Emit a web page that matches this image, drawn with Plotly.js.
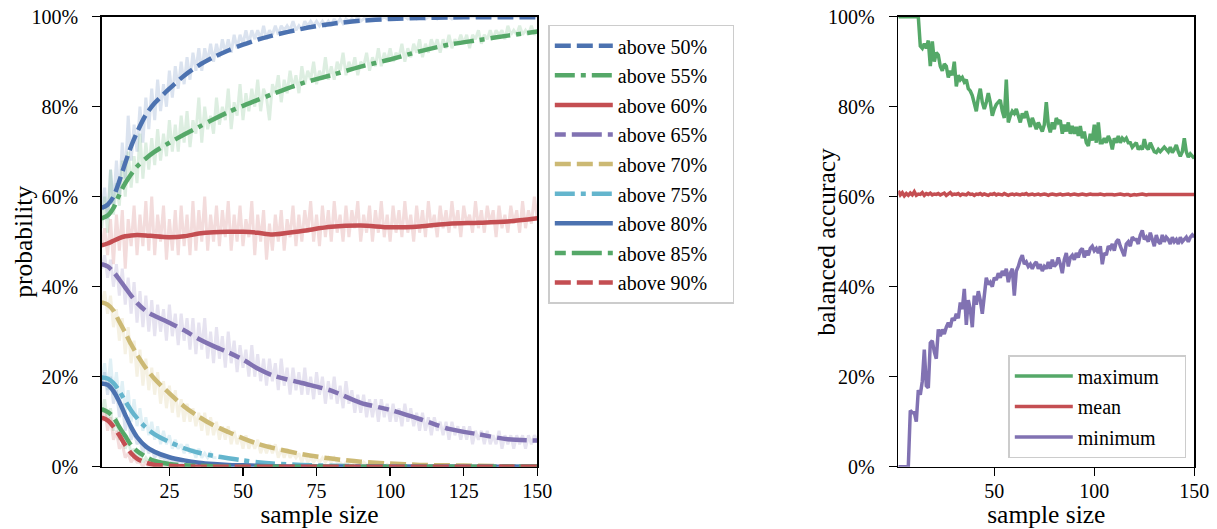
<!DOCTYPE html>
<html>
<head>
<meta charset="utf-8">
<script src="https://cdn.plot.ly/plotly-3.0.1.min.js"></script>
<style>html,body{margin:0;padding:0;background:#fff;}#chart{width:1217px;height:529px;}</style>
</head>
<body>
<div id="chart"></div>
<script>
// ---------------- data ----------------
const sampleSize = [2,3,4,5,6,7,8,9,10,11,12,13,14,15,16,17,18,19,20,21,22,23,24,25,26,27,28,29,30,31,32,33,34,35,36,37,38,39,40,41,42,43,44,45,46,47,48,49,50,51,52,53,54,55,56,57,58,59,60,61,62,63,64,65,66,67,68,69,70,71,72,73,74,75,76,77,78,79,80,81,82,83,84,85,86,87,88,89,90,91,92,93,94,95,96,97,98,99,100,101,102,103,104,105,106,107,108,109,110,111,112,113,114,115,116,117,118,119,120,121,122,123,124,125,126,127,128,129,130,131,132,133,134,135,136,137,138,139,140,141,142,143,144,145,146,147,148,149,150];
const shortSize = [2,3,4,5,6,7,8,9,10,11,12,13,14,15,16,17,18,19,20,21,22,23,24,25,26,27,28,29,30,31,32,33,34,35,36,37,38,39,40,41];
const smoothX = [2,4,6,8,10,12,14,17,20,25,30,35,40,45,50,55,60,70,80,90,100,110,120,130,140,150];

const thresholdLabels = ['above 50%','above 55%','above 60%','above 65%','above 70%','above 75%','above 80%','above 85%','above 90%'];
const leftXTicks = [25,50,75,100,125,150];
const rightXTicks = [50,100,150];
const yTickVals = [0,20,40,60,80,100];
const yTickText = ['0%','20%','40%','60%','80%','100%'];

// smoothed probability curves (percent)
const s50 = [57.5,58.2,60.0,63.5,67.5,71.2,74.3,78.2,80.8,84.0,86.9,89.2,91.0,92.5,93.8,94.9,95.8,97.3,98.4,99.1,99.5,99.7,99.8,99.9,99.9,99.9];
const s55 = [55.2,55.8,57.5,60.5,63.0,65.0,66.7,68.5,70.0,72.0,73.8,75.5,77.2,78.8,80.2,81.5,82.8,85.2,87.0,88.9,90.5,92.3,93.8,94.8,95.8,96.7];
const s60 = [49.2,49.6,50.2,50.8,51.2,51.4,51.5,51.4,51.2,51.0,51.2,51.8,52.1,52.2,52.2,52.0,51.6,52.4,53.3,53.6,53.2,53.4,54.0,54.2,54.5,55.2];
const s65 = [45.0,44.5,43.3,41.6,39.8,38.0,36.4,34.6,33.5,32.0,30.3,28.4,26.8,25.4,23.8,21.8,20.3,18.6,16.9,14.2,12.6,10.6,8.4,7.2,6.1,5.8];
const s70 = [36.5,36.0,34.7,32.2,29.8,27.2,24.9,21.9,19.5,16.3,13.4,11.1,9.2,7.7,6.3,5.1,4.2,2.8,1.8,1.1,0.7,0.4,0.3,0.2,0.1,0.1];
const s75 = [19.8,19.6,18.6,16.8,14.6,12.5,10.8,8.7,7.2,5.5,4.1,3.1,2.4,1.9,1.4,1.0,0.7,0.4,0.2,0.1,0.05,0,0,0,0,0];
const s80 = [18.5,18.2,16.8,14.4,11.5,8.8,6.6,4.5,3.3,2.1,1.4,0.9,0.6,0.4,0.3,0.2,0.1,0.05,0,0,0,0,0,0,0,0];
const s85 = [12.8,12.2,11.0,8.8,6.8,4.8,3.5,2.2,1.3,0.6,0.3,0.2,0.1,0,0,0,0,0,0,0,0,0,0,0,0,0];
const s90 = [10.9,10.3,8.9,7.0,4.8,3.0,1.8,0.9,0.4,0.2,0.1,0,0,0,0,0,0,0,0,0,0,0,0,0,0,0];

// raw (noisy) probability estimates (percent)
const n50 = [57,62,55,66,58,68,60,72,64,78,
  68,76,70,80,72,82,75,84,77,86,
  79,85,80,88,82,89,84,90,85,91,
  86,92,88,93,88,93,90,94,90,94,
  91,95,92,95,92,96,93,96,94,97,
  94,97,95,97,95,98,95,97,96,98,
  96,98,97,98,97,99,97,98,97,99,
  98,99,98,99,98,99,98,99,98,99.5,
  98.5,99.5,98.5,99.5,99,99.5,99,100,99,99.5,
  100,99.5,100,99.5,100,99.5,100,99.5,100,99.5,
  100,99.5,100,100,99.5,100,100,99.5,100,100,
  99.5,100,100,100,99.5,100,100,100,100,99.5,
  100,100,100,100,100,100,100,100,100,100,
  100,100,100,100,100,100,100,100,100,100,
  100,100,100,100,100,100,100,100,100];
const n55 = [53,60,52,66,56,63,58,68,60,70,
  62,69,63,74,64,72,66,73,67,75,
  68,74,69,77,70,76,70,78,72,79,
  71,77,74,82,72,80,75,78,74,82,
  76,80,77,84,75,81,78,85,77,83,
  79,84,80,86,79,84,82,77,85,83,
  87,81,86,83,88,84,87,83,89,85,
  88,86,90,85,88,86,91,86,89,86,
  90,88,92,87,90,88,91,87,90,89,
  92,88,91,89,93,89,92,90,93,90,
  92,91,94,90,93,91,94,92,95,91,
  94,92,95,93,95,92,95,93,96,93,
  95,94,96,94,96,93,96,95,97,94,
  96,95,97,95,97,96,97,95,98,96,
  97,96,98,96,97,96,98,96,97];
const n60 = [49,53,47,55,45,56,48,57,44,55,
  49,58,47,56,49,59,48,60,47,56,
  50,58,46,55,48,57,47,58,49,56,
  47,59,48,57,50,60,48,56,50,58,
  49,57,51,59,48,56,50,58,49,55,
  51,59,47,56,50,57,46,54,48,56,
  50,57,48,55,51,58,49,56,50,57,
  52,59,50,56,49,58,51,57,50,59,
  52,56,50,58,51,57,53,59,50,56,
  52,58,50,57,52,59,51,56,50,58,
  52,57,51,59,52,56,50,58,52,57,
  51,59,53,56,51,58,53,57,52,59,
  53,57,51,58,54,56,52,59,53,57,
  52,58,54,57,51,58,53,56,52,58,
  54,57,52,59,53,57,54,60,55];
const n65 = [44,47,42,46,40,45,38,44,36,42,
  34,41,32,39,31,38,30,37,29,36,
  30,35,28,36,29,34,27,34,28,33,
  26,33,25,32,26,33,24,30,23,31,
  24,29,22,30,23,28,21,27,22,26,
  20,27,20,25,19,24,18,24,19,23,
  17,24,18,22,16,22,17,21,16,22,
  16,20,15,21,16,20,14,19,15,20,
  14,18,13,19,14,17,12,16,12,16,
  11,15,11,15,10,15,11,14,10,14,
  10,13,9,14,10,13,9,12,8,12,
  8,11,7,11,8,10,7,10,6,10,
  7,9,6,9,6,9,5,8,6,8,
  5,8,5,7,5,8,4,7,5,7,
  4,7,5,7,4,7,5,7,6];
const n70 = [36,39,34,38,31,35,28,33,25,31,
  23,28,20,26,18,24,17,22,16,21,
  14,19,13,18,12,17,11,15,10,14,
  10,13,9,12,8,12,7,11,7,10,
  6,9,6,9,5,8,5,7,4,7,
  4,6,4,6,3,5,3,5,3,5,
  2,4,2,4,2,3,2,3,1,3,
  1,2,1,2,1,2,1,2,1,2,
  1,1,0,1,1,0,1,1,0,1,
  0.5,0,0.5,0.5,0,0.5,0,0.5,0,0.5,
  0,0,0,0,0,0,0,0,0,0,
  0,0,0,0,0,0,0,0,0,0,
  0,0,0,0,0,0,0,0,0,0,
  0,0,0,0,0,0,0,0,0,0,
  0,0,0,0,0,0,0,0,0];
const n75 = [19,23,17,24,16,21,14,19,12,17,
  10,15,9,13,8,11,7,10,6,9,
  5,8,5,7,4,6,4,5,3,5,
  3,4,2,4,2,3,2,3,2,2];
const n80 = [18,21,16,20,14,17,11,14,8,11,
  6,8,5,6,3,5,3,4,2,3,
  2,2,1,2,1,1,1,1,0,1,
  0,0,0,0,0,0,0,0,0,0];
const n85 = [12,15,10,13,8,11,6,8,4,6,
  3,4,2,3,1,2,1,1,0,1,
  0,0,0,0,0,0,0,0,0,0,
  0,0,0,0,0,0,0,0,0,0];
const n90 = [10,13,8,11,6,8,4,5,2,3,
  1,2,1,1,0,1,0,0,0,0,
  0,0,0,0,0,0,0,0,0,0,
  0,0,0,0,0,0,0,0,0,0];

// balanced accuracy (percent)
const accLabels = ['maximum','mean','minimum'];
const maxAcc = [100,100,100,100,100,100,100,100,100,100,
  100,93.5,93,94,93,94.7,89,94.5,90,92,
  91.5,89,88,89.5,89,86.5,88,87,90,84.5,
  87,86,86.5,85.5,86,84,83.5,82.5,81,79,
  82,84,81,79.5,81,83,81,78,79.5,80.5,
  81,81.5,79,77.5,86,76.5,78,79,78.5,79.5,
  78,76.5,78.5,77.5,79,77,75.5,77.5,76,75,
  76.5,75.5,74.5,76,81,76,74.3,76.5,75,77.5,
  76.5,77,74,76,74.5,76.5,74,75.7,74,75.5,
  73.5,75.7,73,74.5,72,71.3,74,72.5,76,72,
  76.5,72,72,73,72,73.5,72.5,70.5,73,72,
  73.5,72,73,72.5,73,72,72,71,71.5,72,
  70.5,71,70.5,72.8,71,70.5,72,71,70,69.8,
  70.5,70,70.5,71,70.5,70,71,69.8,70.5,71.5,
  70,69,70,73,70,68.8,69.5,69,68.5];
const meanAcc = [61.3,60.4,60.9,60.2,60.7,60.3,60.8,60.4,61.1,60.3,
  60.6,60.5,60.9,60.3,60.7,60.5,60.8,60.4,60.6,60.5,
  60.7,60.4,60.6,60.8,60.3,60.6,60.9,60.4,60.6,60.5,
  60.7,60.3,60.6,60.5,60.4,60.8,60.5,60.6,60.3,60.6,
  60.5,60.7,60.4,60.6,60.5,60.3,60.6,60.5,60.7,60.4,
  60.6,60.5,60.4,60.7,60.5,60.3,60.5,60.6,60.4,60.6,
  60.5,60.4,60.6,60.5,60.7,60.4,60.5,60.6,60.4,60.5,
  60.6,60.4,60.5,60.6,60.5,60.3,60.5,60.6,60.5,60.4,
  60.5,60.6,60.4,60.5,60.5,60.6,60.4,60.5,60.6,60.5,
  60.4,60.5,60.6,60.5,60.4,60.5,60.6,60.5,60.5,60.4,
  60.5,60.6,60.5,60.4,60.5,60.5,60.6,60.5,60.4,60.5,
  60.5,60.6,60.5,60.4,60.5,60.5,60.3,60.5,60.5,60.4,
  60.5,60.5,60.6,60.5,60.4,60.5,60.5,60.5,60.4,60.5,
  60.5,60.5,60.4,60.5,60.5,60.5,60.4,60.5,60.5,60.5,
  60.4,60.5,60.5,60.5,60.5,60.4,60.5,60.5,60.5];
const minAcc = [0,0,0,0,0,0,12.5,12,12,10,
  17,16,19,26,18,17.5,27.5,28,25.5,24,
  30.5,29,30.5,29.5,31,32,31,33,32.5,34,
  33,36.5,35,39.5,31.5,37,35,31,38,36,
  39,37,34,39,42,40.5,41,40,42,41.5,
  43,42,43.5,42.5,44,41,43,44,38,43.5,
  44.5,46,47,45,45.5,44.5,45,44,45,45.5,
  44,45,43.5,44.5,44,45.5,44,46,44.5,45,
  46.5,45,43,46,47.5,44.5,46.5,47,46,47.5,
  46.5,48,48.5,46.5,48,47,48.5,49,48,48.5,
  47.5,49,45,47.5,47,49,48.5,49.5,48,50,
  50.5,49,48,46.8,49.5,50,49,51,50.5,50.5,
  49.5,51.5,52.5,50.5,51,50,52,50.5,49,51.5,
  50,49.5,51.5,50,51,50.5,49.5,51,50,50.5,
  49.5,51,50,50.5,51,50,51,51.5,51];

// ---------------- styling ----------------
const BLUE='#4C72B0', GREEN='#55A868', RED='#C44E52', PURPLE='#8172B2', YELLOW='#CCB974', CYAN='#64B5CD';
const thrColors = [BLUE,GREEN,RED,PURPLE,YELLOW,CYAN,BLUE,GREEN,RED];
const DASHED='16px,6px', DASHDOT='20px,6px,5px,6px', SOLID='solid', SHORTLONG='11px,6px,30px,6px';
const thrDashes = [DASHED,DASHDOT,SOLID,SHORTLONG,DASHED,DASHDOT,SOLID,SHORTLONG,DASHED];
const smoothSeries = [s50,s55,s60,s65,s70,s75,s80,s85,s90];
const noisySeries = [n50,n55,n60,n65,n70,n75,n80,n85,n90];
const noisyXs = [sampleSize,sampleSize,sampleSize,sampleSize,sampleSize,shortSize,shortSize,shortSize,shortSize];
const PAD = '\u00a0\u00a0\u00a0\u00a0';

const FONT = '"Liberation Serif", "Times New Roman", serif';
const traces = [];
noisySeries.forEach((ys,i)=>{
  traces.push({x:noisyXs[i], y:ys, type:'scatter', mode:'lines', xaxis:'x', yaxis:'y',
    line:{color:thrColors[i], width:3}, opacity:0.2, showlegend:false, hoverinfo:'skip'});
});
smoothSeries.forEach((ys,i)=>{
  traces.push({x:smoothX, y:ys, type:'scatter', mode:'lines', xaxis:'x', yaxis:'y',
    name:thresholdLabels[i] + PAD, legendgroup:'g'+i,
    line:{color:thrColors[i], width:4.5, dash:thrDashes[i], shape:'spline', smoothing:0.8},
    legend:'legend'});
});
const accSeries = [maxAcc, meanAcc, minAcc];
const accColors = [GREEN, RED, PURPLE];
accSeries.forEach((ys,i)=>{
  traces.push({x:sampleSize, y:ys, type:'scatter', mode:'lines', xaxis:'x2', yaxis:'y2',
    name:accLabels[i] + PAD, legendgroup:'a'+i, line:{color:accColors[i], width:3.5}, legend:'legend2'});
});

const W=1217, H=529;
const axisCommon = {showline:true, linecolor:'black', linewidth:1.6, mirror:true, ticks:'outside',
  ticklen:8, tickwidth:1.5, tickcolor:'black', showgrid:false, zeroline:false,
  tickfont:{family:FONT, size:20, color:'black'}};
const yDomain = [1-466.7/H, 1-16.7/H];
const titleFont = {family:FONT, size:25.5, color:'black'};
const yMid = (yDomain[0]+yDomain[1])/2;
const layout = {
  width:W, height:H, margin:{l:0,r:0,t:0,b:0}, paper_bgcolor:'white', plot_bgcolor:'white',
  font:{family:FONT, size:20, color:'black'},
  xaxis: Object.assign({}, axisCommon, {domain:[101.7/W, 537.3/W], range:[2,150], tickmode:'array', tickvals:leftXTicks, anchor:'y',
    ticklabelstandoff:-2, title:{text:'sample size', font:titleFont, standoff:3}}),
  yaxis: Object.assign({}, axisCommon, {domain:yDomain, range:[0,100], tickmode:'array', tickvals:yTickVals, ticktext:yTickText, anchor:'x',
    ticklabelstandoff:10}),
  xaxis2: Object.assign({}, axisCommon, {domain:[898.3/W, 1194.3/W], range:[2,150], tickmode:'array', tickvals:rightXTicks, anchor:'y2',
    ticklabelstandoff:-2, title:{text:'sample size', font:titleFont, standoff:3}}),
  yaxis2: Object.assign({}, axisCommon, {domain:yDomain, range:[0,100], tickmode:'array', tickvals:yTickVals, ticktext:yTickText, anchor:'x2',
    ticklabelstandoff:10}),
  annotations:[
    {text:'probability', xref:'paper', yref:'paper', x:24/W, y:yMid, xanchor:'center', yanchor:'middle',
     textangle:-90, showarrow:false, font:titleFont},
    {text:'balanced accuracy', xref:'paper', yref:'paper', x:827/W, y:yMid, xanchor:'center', yanchor:'middle',
     textangle:-90, showarrow:false, font:titleFont}
  ],
  legend:{x:548.3/W, y:1-24.7/H, xanchor:'left', yanchor:'top', bgcolor:'white', bordercolor:'#cccccc', borderwidth:1.5,
    font:{family:FONT, size:20, color:'black'}, itemwidth:58, tracegroupgap:0.6, traceorder:'grouped'},
  legend2:{x:1008.3/W, y:1-355/H, xanchor:'left', yanchor:'top', bgcolor:'white', bordercolor:'#cccccc', borderwidth:1.5,
    font:{family:FONT, size:20, color:'black'}, itemwidth:58, tracegroupgap:1.5, traceorder:'grouped'},
  showlegend:true
};
Plotly.newPlot('chart', traces, layout, {displayModeBar:false, staticPlot:true});
</script>
</body>
</html>
